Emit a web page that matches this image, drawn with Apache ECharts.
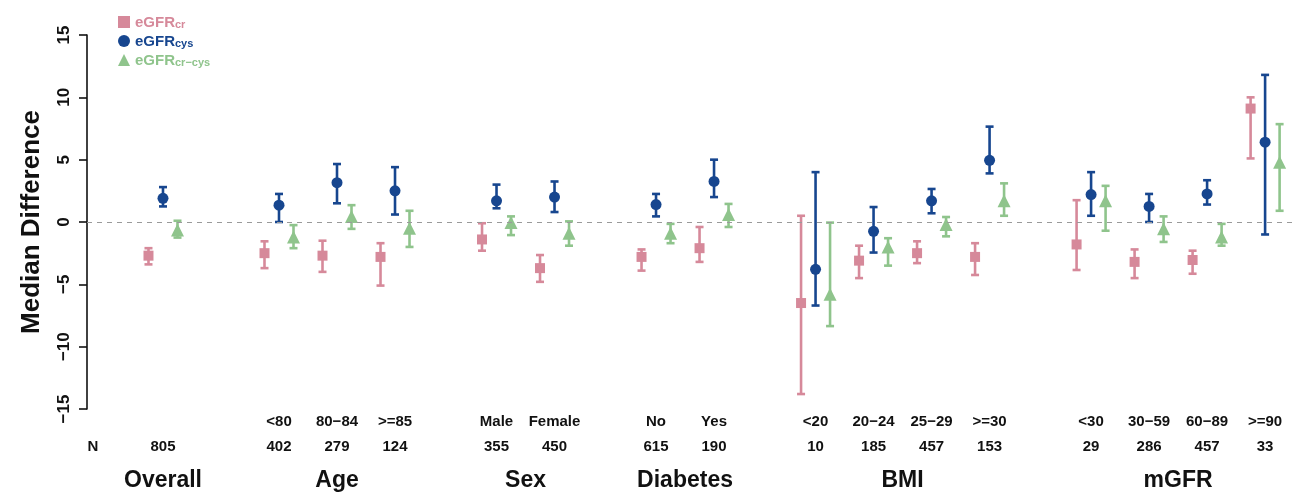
<!DOCTYPE html>
<html>
<head>
<meta charset="utf-8">
<script src="https://cdn.jsdelivr.net/npm/echarts@6/dist/echarts.min.js"></script>
<style>
html,body{margin:0;padding:0;background:#fff;}
#chart{width:1307px;height:495px;}
</style>
</head>
<body>
<div id="chart"></div>
<script>
// ---------- data ----------
const groups = ['Overall', 'Age', 'Sex', 'Diabetes', 'BMI', 'mGFR'];
const subgroups = [[' '], ['<80', '80\u221284', '>=85'], ['Male', 'Female'], ['No', 'Yes'],
  ['<20', '20\u221224', '25\u221229', '>=30'], ['<30', '30\u221259', '60\u221289', '>=90']];
const nValues = [[805], [402, 279, 124], [355, 450], [615, 190], [10, 185, 457, 153], [29, 286, 457, 33]];

const crMed  = [-2.7, -2.5, -2.7, -2.8, -1.4, -3.7, -2.8, -2.1, -6.5, -3.1, -2.5, -2.8, -1.8, -3.2, -3.05, 9.1];
const crLo   = [-3.4, -3.7, -4.0, -5.1, -2.3, -4.8, -3.9, -3.2, -13.8, -4.5, -3.3, -4.25, -3.85, -4.5, -4.15, 5.1];
const crHi   = [-2.1, -1.55, -1.5, -1.7, -0.1, -2.65, -2.2, -0.4, 0.5, -1.9, -1.55, -1.7, 1.75, -2.2, -2.3, 10.0];
const cysMed = [1.9, 1.35, 3.15, 2.5, 1.7, 2.0, 1.4, 3.25, -3.8, -0.75, 1.7, 4.95, 2.2, 1.25, 2.25, 6.4];
const cysLo  = [1.25, 0, 1.5, 0.6, 1.1, 0.8, 0.45, 2.0, -6.7, -2.45, 0.7, 3.9, 0.5, 0, 1.4, -1.0];
const cysHi  = [2.8, 2.25, 4.65, 4.4, 3.0, 3.25, 2.25, 5.0, 4.0, 1.2, 2.65, 7.65, 4.0, 2.25, 3.35, 11.8];
const ccMed  = [-0.65, -1.2, 0.45, -0.5, -0.05, -0.9, -0.9, 0.6, -5.8, -2.0, -0.2, 1.7, 1.7, -0.55, -1.2, 4.8];
const ccLo   = [-1.25, -2.1, -0.55, -2.0, -1.05, -1.9, -1.7, -0.4, -8.35, -3.5, -1.15, 0.5, -0.7, -1.6, -1.9, 0.9];
const ccHi   = [0.1, -0.25, 1.35, 0.9, 0.45, 0.05, -0.15, 1.45, -0.05, -1.3, 0.4, 3.1, 2.9, 0.45, -0.15, 7.85];

const yTicks = [-15, -10, -5, 0, 5, 10, 15];

// ---------- layout ----------
const FIRST_GAP = 2, GAP = 1.75, OFFSET = 0.25, N_POS = -1.21;
const COLORS = { cr: '#d6899a', cys: '#17468f', cc: '#8fc48c' };
const FONT = 'Liberation Sans, Arial, sans-serif';

const slotPos = [], slotLabel = {}, groupCenter = {};
let cur = 0;
groups.forEach((g, gi) => {
  if (gi === 1) cur += FIRST_GAP; else if (gi > 1) cur += GAP;
  const ps = [];
  subgroups[gi].forEach((s, si) => {
    if (si > 0) cur += 1;
    slotPos.push(cur); ps.push(cur);
    slotLabel[cur.toFixed(3)] = '{s|' + s + '}\n{n|' + nValues[gi][si] + '}';
  });
  const c = (ps[0] + ps[ps.length - 1]) / 2;
  groupCenter[c.toFixed(3)] = g;
});
slotLabel[N_POS.toFixed(3)] = '{s| }\n{n|N}';

const xMin = -1.31, xMax = 19.55;

function pts(med, off) { return med.map((v, i) => [slotPos[i] + off, v]); }
function bars(lo, hi, off) { return lo.map((v, i) => [slotPos[i] + off, v, hi[i]]); }

function errRender(color) {
  return function (params, api) {
    const x = api.value(0), lo = api.value(1), hi = api.value(2);
    const a = api.coord([x, hi]), b = api.coord([x, lo]);
    const c = 4;
    const st = { stroke: color, lineWidth: 2.6 };
    return {
      type: 'group', children: [
        { type: 'line', shape: { x1: a[0], y1: a[1], x2: b[0], y2: b[1] }, style: st },
        { type: 'line', shape: { x1: a[0] - c, y1: a[1], x2: a[0] + c, y2: a[1] }, style: st },
        { type: 'line', shape: { x1: b[0] - c, y1: b[1], x2: b[0] + c, y2: b[1] }, style: st }
      ]
    };
  };
}

const legendLabel = {
  'eGFR_cr': '{r|eGFR}{rs|cr}',
  'eGFR_cys': '{b|eGFR}{bs|cys}',
  'eGFR_cr-cys': '{g|eGFR}{gs|cr\u2212cys}'
};
function mainRich(col) { return { color: col, fontSize: 15, fontWeight: 'bold', fontFamily: FONT, lineHeight: 16, verticalAlign: 'bottom' }; }
function subRich(col) { return { color: col, fontSize: 11, fontWeight: 'bold', fontFamily: FONT, lineHeight: 16, verticalAlign: 'bottom', padding: [3, 0, 0, 0] }; }

const chart = echarts.init(document.getElementById('chart'));
chart.setOption({
  animation: false,
  backgroundColor: '#fff',
  grid: { left: 87, right: 10, top: 35, bottom: 86, containLabel: false },
  legend: {
    orient: 'vertical', left: 113, top: 10, itemGap: 4, itemWidth: 12, itemHeight: 12,
    selectedMode: false,
    data: [
      { name: 'eGFR_cr', icon: 'rect' },
      { name: 'eGFR_cys', icon: 'circle' },
      { name: 'eGFR_cr-cys', icon: 'triangle' }
    ],
    formatter: n => legendLabel[n],
    textStyle: {
      rich: {
        r: mainRich(COLORS.cr), rs: subRich(COLORS.cr),
        b: mainRich(COLORS.cys), bs: subRich(COLORS.cys),
        g: mainRich(COLORS.cc), gs: subRich(COLORS.cc)
      }
    }
  },
  xAxis: [
    {
      type: 'value', min: xMin, max: xMax, position: 'bottom',
      axisLine: { show: false }, axisTick: { show: false }, splitLine: { show: false },
      axisLabel: {
        customValues: slotPos.concat([N_POS]), margin: 0, interval: 0,
        formatter: v => slotLabel[v.toFixed(3)] || '',
        rich: {
          s: { fontSize: 15, fontWeight: 'bold', fontFamily: FONT, color: '#111', lineHeight: 25 },
          n: { fontSize: 15, fontWeight: 'bold', fontFamily: FONT, color: '#111', lineHeight: 25 }
        }
      }
    },
    {
      type: 'value', min: xMin, max: xMax, position: 'bottom',
      axisLine: { show: false }, axisTick: { show: false }, splitLine: { show: false },
      axisLabel: {
        customValues: Object.keys(groupCenter).map(Number), margin: 60,
        formatter: v => groupCenter[v.toFixed(3)] || '',
        fontSize: 23, fontWeight: 'bold', fontFamily: FONT, color: '#111'
      }
    }
  ],
  yAxis: {
    type: 'value', min: -15, max: 15, interval: 5,
    name: 'Median Difference', nameLocation: 'middle', nameGap: 42,
    nameTextStyle: { fontSize: 26, fontWeight: 'bold', fontFamily: FONT, color: '#111' },
    axisLine: { show: true, onZero: false, lineStyle: { color: '#111', width: 1.6 } },
    axisTick: { show: true, length: 8, lineStyle: { color: '#111', width: 1.6 } },
    splitLine: { show: false },
    axisLabel: {
      rotate: 90, margin: 14, fontSize: 17, fontWeight: 'bold', fontFamily: FONT, color: '#111',
      formatter: v => yTicks.indexOf(v) >= 0 ? String(v).replace('-', '\u2212') : ''
    }
  },
  series: [
    { type: 'custom', name: 'err_cr', renderItem: errRender(COLORS.cr), data: bars(crLo, crHi, -OFFSET), encode: { x: 0, y: [1, 2] }, z: 2 },
    { type: 'custom', name: 'err_cys', renderItem: errRender(COLORS.cys), data: bars(cysLo, cysHi, 0), encode: { x: 0, y: [1, 2] }, z: 2 },
    { type: 'custom', name: 'err_cc', renderItem: errRender(COLORS.cc), data: bars(ccLo, ccHi, OFFSET), encode: { x: 0, y: [1, 2] }, z: 2 },
    {
      type: 'scatter', name: 'eGFR_cr', symbol: 'rect', symbolSize: 10, data: pts(crMed, -OFFSET),
      itemStyle: { color: COLORS.cr, opacity: 1 }, z: 3,
      markLine: {
        silent: true, symbol: 'none', label: { show: false },
        lineStyle: { color: '#9a9a9a', type: [5, 5], width: 1 },
        data: [{ yAxis: 0 }]
      }
    },
    { type: 'scatter', name: 'eGFR_cys', symbol: 'circle', symbolSize: 11, data: pts(cysMed, 0), itemStyle: { color: COLORS.cys, opacity: 1 }, z: 3 },
    { type: 'scatter', name: 'eGFR_cr-cys', symbol: 'triangle', symbolSize: 13, data: pts(ccMed, OFFSET), itemStyle: { color: COLORS.cc, opacity: 1 }, z: 3 }
  ]
});
</script>
</body>
</html>
